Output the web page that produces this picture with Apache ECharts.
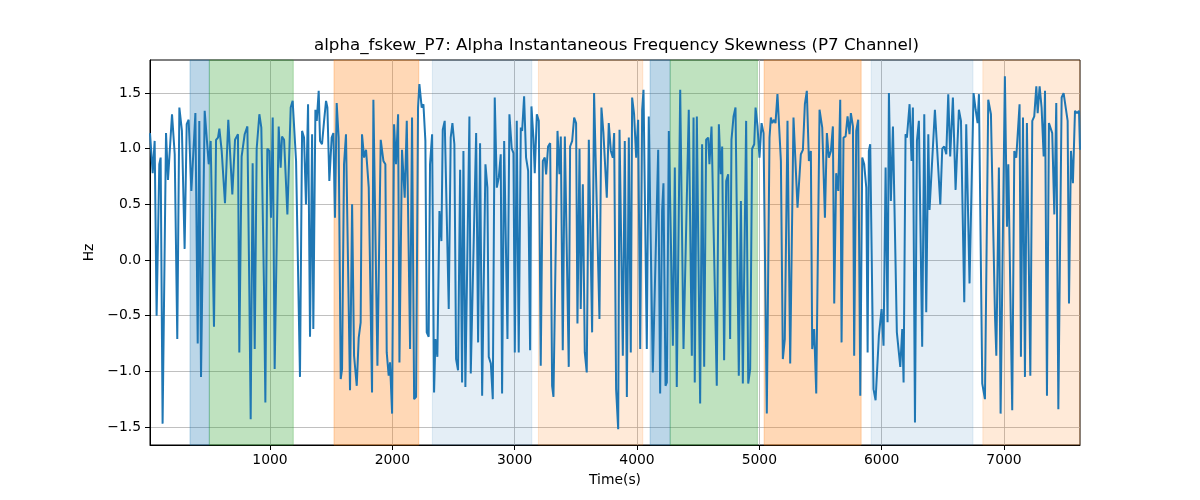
<!DOCTYPE html>
<html>
<head>
<meta charset="utf-8">
<script src="https://cdn.jsdelivr.net/npm/echarts@6/dist/echarts.min.js"></script>
<style>html,body{margin:0;padding:0;background:#fff}#c{width:1200px;height:500px}</style>
</head>
<body>
<div id="c"></div>
<script>
const titleText = 'alpha_fskew_P7: Alpha Instantaneous Frequency Skewness (P7 Channel)';
const xName = 'Time(s)';
const yName = 'Hz';
const xTicks = [1000, 2000, 3000, 4000, 5000, 6000, 7000];
const yTicks = [-1.5, -1.0, -0.5, 0.0, 0.5, 1.0, 1.5];
const xRange = [19, 7621];
const yRange = [-1.662, 1.797];

const times = [19,41,57,73,95,106,122,150,166,199,221,242,259,280,302,319,335,357,390,409,422,436,466,499,515,542,559,575,586,605,632,659,692,714,738,749,
768,782,793,815,831,842,858,875,891,913,929,951,962,978,995,1008,1022,1038,1055,1071,1087,1098,1115,1142,1169,1185,1213,1245,1262,1278,1294,1311,1327,1344,1354,1371,1382,1398,1409,1425,1442,1458,1469,1485,
1504,1518,1531,1545,1561,1578,1589,1605,1621,1654,1671,1687,1709,1725,1741,1752,1769,1785,1807,1834,1845,1878,1905,1927,1943,1954,1970,1981,1998,2014,2030,2047,2058,2079,2101,2118,2145,2161,2178,2194,2210,2221,
2240,2254,2270,2281,2297,2308,2325,2341,2352,2368,2385,2401,2412,2428,2461,2477,2491,2507,2521,2537,2554,2570,2581,2597,2630,2641,2685,2701,2717,2734,2761,2777,2788,2805,2821,2837,2854,2870,2886,2897,2914,2941,2957,
2976,2990,3001,3017,3033,3050,3061,3077,3093,3110,3126,3137,3153,3164,3181,3197,3213,3230,3246,3257,3273,3290,3306,3317,3350,3366,3377,3393,3410,3442,3453,3470,3486,3502,3513,3530,3540,3557,3573,3589,3606,3633,3649,3693,3709,
3725,3753,3769,3786,3802,3813,3829,3846,3857,3873,3884,3900,3917,3933,3949,3960,3976,3993,4009,4026,4042,4053,4080,4096,4129,4173,4189,4205,4216,4233,4244,4260,4293,4309,4325,4353,4380,4423,
4448,4462,4472,4489,4516,4532,4549,4565,4582,4592,4609,4652,4669,4685,4696,4712,4729,4745,4761,4772,4789,4805,4832,4849,4865,4892,4909,4925,4941,4958,4969,4985,5001,5018,5034,5045,5061,5083,5094,5105,5121,5132,5148,
5176,5192,5208,5230,5252,5279,5312,5339,5356,5372,5388,5405,5421,5432,5448,5465,5492,5514,5536,5552,5568,5585,5601,5612,5628,5645,5661,5672,5688,5705,5721,5737,5748,5765,5775,5792,5808,5825,5841,5857,5874,5885,5895,
5906,5933,5950,5961,5977,5999,6015,6032,6048,6059,6075,6092,6108,6124,6152,6168,6179,6195,6206,6228,6244,6255,6272,6288,6304,6331,6348,6364,6381,6391,6435,6479,6495,6511,6528,6544,6560,6582,6604,6631,
6648,6675,6691,6718,6751,6768,6784,6795,6822,6844,6871,6893,6926,6937,6958,
6972,7007,7024,7035,7067,7084,7100,7127,7138,7155,7171,7187,7215,7231,7247,7264,7275,7291,7307,7324,7335,7351,7367,7394,7411,7427,7444,7471,7487,7520,7531,7547,7563,7580,7596,7613,7621];

const values = [1.14,0.78,1.07,-0.5,0.86,0.92,-1.47,1.14,0.72,1.31,0.95,-0.71,1.37,1.16,0.1,1.22,1.26,0.62,1.32,-0.75,1.25,-1.05,1.34,0.86,1.07,-0.6,1.08,1.10,1.18,0.98,0.51,1.26,0.59,1.08,1.13,-0.83,
0.93,0.92,1.13,1.2,-0.29,-1.43,0.87,-0.8,1.0,1.31,1.19,-0.26,-1.28,1.0,0.98,0.38,1.28,-0.98,0.17,1.2,0.83,1.11,1.08,0.41,1.37,1.43,0.89,-1.05,1.16,1.1,0.5,1.4,-0.69,1.13,-0.62,1.35,1.25,1.52,1.07,1.04,1.25,1.43,1.37,0.71,
1.1,1.14,0.38,1.41,1.1,-1.07,-0.98,0.86,1.13,-1.17,0.5,-0.86,-1.13,-0.7,-0.56,1.13,0.92,0.99,0.65,-1.19,1.44,-0.95,1.08,0.89,0.86,-0.83,-1.04,-0.92,-1.38,1.22,0.86,1.31,-0.92,0.99,0.56,1.25,-0.8,1.28,-1.25,-1.23,1.37,1.58,
1.37,1.4,1.07,-0.65,-0.69,0.86,1.13,-1.19,-0.71,-0.87,0.44,0.17,1.17,1.25,-0.44,1.1,1.23,1.04,-0.89,-0.99,0.81,-1.1,0.98,-1.14,1.29,-1.02,1.14,-0.74,1.05,-1.22,0.86,0.65,-0.87,-0.93,-1.25,1.46,0.65,0.74,0.95,-1.2,1.07,-0.71,1.31,
1.0,0.96,-0.83,1.25,-0.83,1.19,1.16,1.47,0.92,0.8,-0.81,1.38,1.1,0.78,1.31,1.25,-0.95,0.89,0.92,0.77,1.02,1.05,-1.13,-1.23,1.16,0.77,1.11,-0.81,1.11,-0.96,1.02,1.07,1.28,1.23,-0.57,1.0,-0.44,0.68,-0.83,-1.01,1.08,-0.65,1.5,-0.53,1.37,
1.15,0.56,1.23,0.98,0.92,1.14,-1.16,-1.52,1.17,1.16,-0.86,1.07,-1.23,1.1,-0.83,1.46,1.31,0.92,1.26,-0.8,1.35,1.53,-0.8,1.29,-1.01,0.99,-1.2,0.44,0.69,-1.13,-1.1,1.16,-0.77,0.83,-1.14,1.53,-0.8,1.35,
-0.86,1.28,-1.1,1.29,-1.29,1.04,-0.96,1.08,1.1,0.86,1.2,-1.13,1.22,0.77,1.02,-0.9,0.71,0.77,-0.71,1.08,1.29,1.37,-1.04,0.53,-1.11,1.25,-1.11,-0.98,1.0,1.04,1.37,1.2,0.92,1.23,1.14,1.14,-1.38,1.1,1.28,1.23,1.26,1.23,1.49,
0.89,-0.89,-0.71,1.25,-0.93,1.28,0.47,0.95,0.99,1.4,1.52,0.89,0.98,-0.8,-0.62,-1.2,1.35,1.19,0.38,1.14,0.92,0.98,1.2,-0.39,0.78,0.62,1.44,-0.74,1.1,1.11,1.29,1.13,1.32,1.2,-0.86,1.16,1.26,-1.22,0.92,0.86,0.65,-0.83,0.98,
1.04,-1.16,-1.26,-1.25,-0.68,-0.44,-0.77,0.83,-0.56,1.5,0.53,1.2,1.2,-0.65,-0.96,-0.62,-1.1,1.13,1.1,1.4,0.89,1.37,-1.46,1.07,1.25,-0.78,1.31,-0.47,1.13,0.45,1.35,0.5,1.0,1.02,0.95,1.49,0.93,1.46,0.63,1.35,
1.25,-0.38,1.22,-0.21,1.5,1.35,1.23,1.49,-1.11,-1.25,1.44,1.31,-0.5,-0.86,0.83,
-1.38,1.65,0.3,0.86,-1.35,0.98,0.92,1.4,-0.87,1.28,-1.05,1.23,-1.04,1.25,1.29,1.56,1.32,1.56,1.37,0.93,1.52,-1.22,1.23,1.14,0.41,1.41,-1.34,1.46,1.5,1.25,-0.39,0.98,0.69,1.34,1.32,1.34,0.99];

// shaded intervals: start, end, kind
const spanStarts = [346, 504, 1523, 2327, 3194, 4107, 4271, 5039, 5914, 6827];
const spanEnds   = [504, 1190, 2216, 3140, 4047, 4271, 4984, 5832, 6746, 7621];
const spanKinds  = ['blue','green','orange','lightblue','lightorange','blue','green','orange','lightblue','lightorange'];
const kindColors = {
  blue: 'rgba(31,119,180,0.3)',
  green: 'rgba(44,160,44,0.3)',
  orange: 'rgba(255,127,14,0.3)',
  lightblue: 'rgba(31,119,180,0.12)',
  lightorange: 'rgba(255,127,14,0.16)'
};

const font = 'DejaVu Sans';
const chart = echarts.init(document.getElementById('c'), null, {renderer: 'canvas'});
const lineData = times.map((t, i) => [t, values[i]]);
const areas = spanStarts.map((s, i) => [
  {xAxis: s, itemStyle: {color: kindColors[spanKinds[i]], borderColor: kindColors[spanKinds[i]], borderWidth: 1}},
  {xAxis: spanEnds[i]}
]);
const fmtY = v => (Math.round(v * 10) / 10).toFixed(1).replace('-', '\u2212');

chart.setOption({
  animation: false,
  backgroundColor: '#ffffff',
  title: {
    text: titleText, left: 314, top: 37, padding: 0,
    textStyle: {fontFamily: font, fontSize: 16.7, fontWeight: 'normal', color: '#000'}
  },
  grid: {left: 150, right: 120, top: 60, bottom: 55, show: true, borderColor: '#000', borderWidth: 1, backgroundColor: 'transparent'},
  xAxis: {
    type: 'value', min: xRange[0], max: xRange[1], minInterval: 1000, maxInterval: 1000,
    name: xName, nameLocation: 'middle', nameGap: 28,
    nameTextStyle: {fontFamily: font, fontSize: 13.9, color: '#000'},
    axisLine: {show: true, onZero: false, lineStyle: {color: '#000', width: 1}},
    axisTick: {show: true, length: 5, lineStyle: {color: '#000'}, customValues: xTicks},
    axisLabel: {show: true, margin: 8, fontFamily: font, fontSize: 13.9, color: '#000', customValues: xTicks, formatter: v => String(v)},
    splitLine: {show: true, lineStyle: {color: '#b0b0b0', width: 0.8}}
  },
  yAxis: {
    type: 'value', min: yRange[0], max: yRange[1], minInterval: 0.5, maxInterval: 0.5,
    name: yName, nameLocation: 'middle', nameGap: 48, nameRotate: 90,
    nameTextStyle: {fontFamily: font, fontSize: 13.9, color: '#000'},
    axisLine: {show: true, onZero: false, lineStyle: {color: '#000', width: 1}},
    axisTick: {show: true, length: 5, lineStyle: {color: '#000'}, customValues: yTicks},
    axisLabel: {show: true, margin: 9, fontFamily: font, fontSize: 13.9, color: '#000', customValues: yTicks, formatter: fmtY},
    splitLine: {show: true, lineStyle: {color: '#b0b0b0', width: 0.8}}
  },
  series: [
    {
      type: 'line', data: [], silent: true, z: 1,
      markArea: {silent: true, data: areas}
    },
    {
      type: 'line', data: lineData, showSymbol: false, symbol: 'none', z: 3,
      lineStyle: {color: '#1f77b4', width: 2}, itemStyle: {color: '#1f77b4'}
    }
  ]
});
</script>
</body>
</html>
